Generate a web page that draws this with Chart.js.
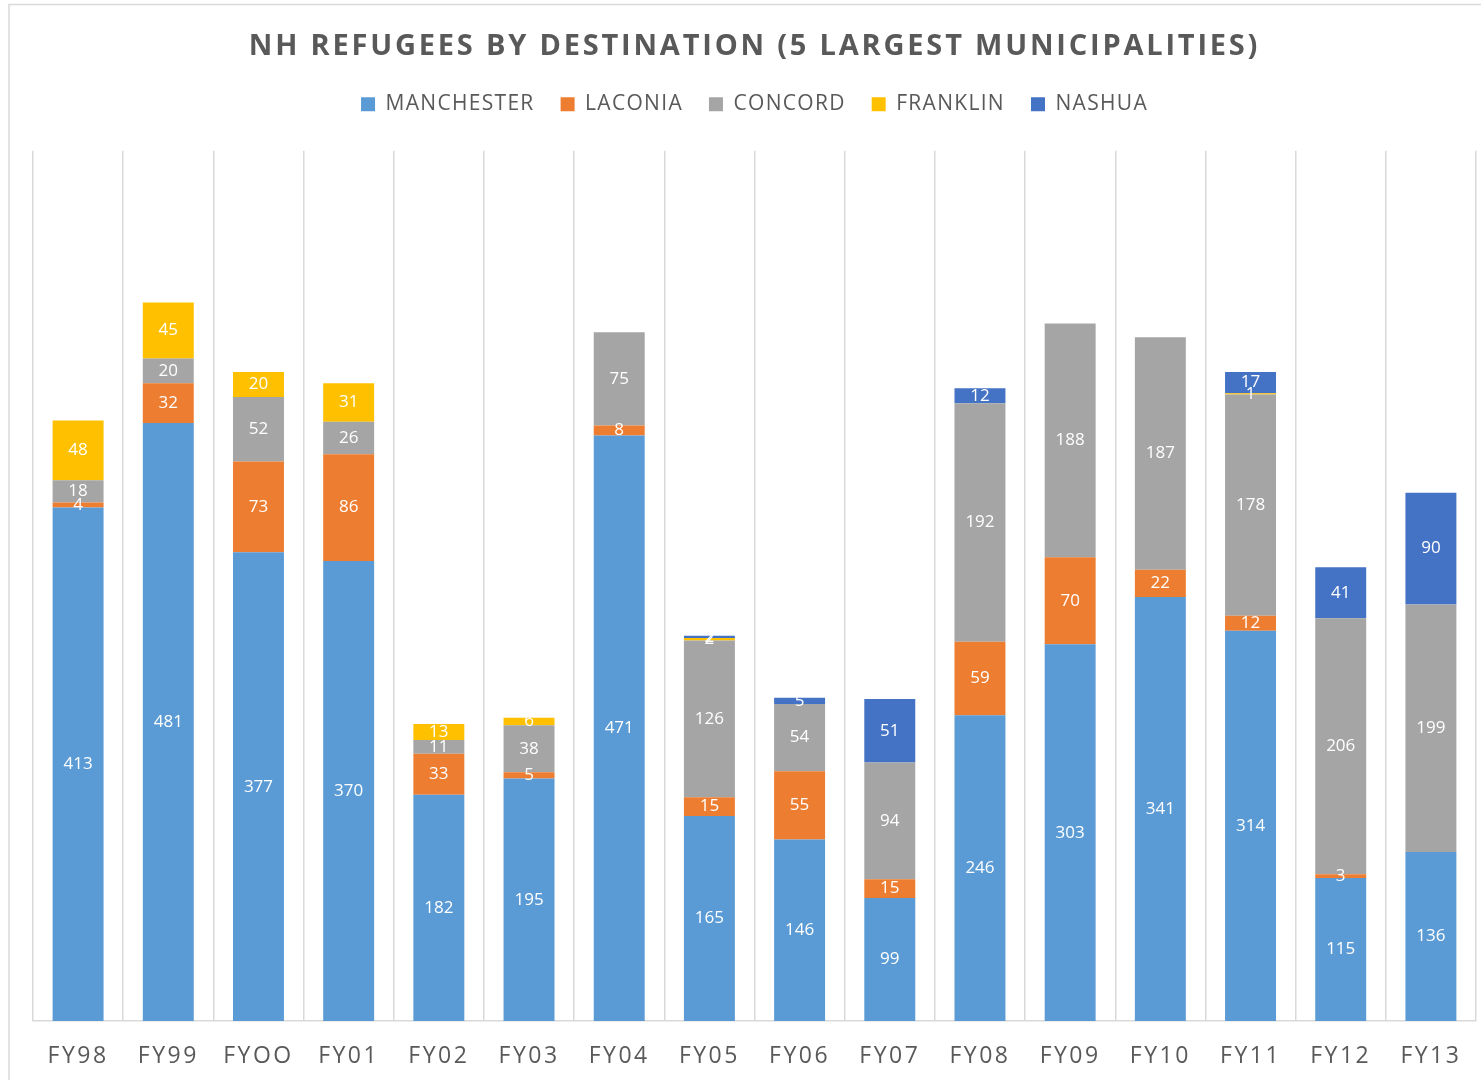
<!DOCTYPE html>
<html>
<head>
<meta charset="utf-8">
<script src="https://cdn.jsdelivr.net/npm/chart.js@4.4.1/dist/chart.umd.min.js"></script>
<style>
  html, body { margin: 0; padding: 0; background: #fff; }
  #wrap { width: 1481px; height: 1080px; position: relative; }
</style>
</head>
<body>
<div id="wrap"><canvas id="refugeeChart"></canvas></div>
<script>
const years = ['FY98', 'FY99', 'FYOO', 'FY01', 'FY02', 'FY03', 'FY04', 'FY05',
  'FY06', 'FY07', 'FY08', 'FY09', 'FY10', 'FY11', 'FY12', 'FY13'];

const manchester = [413, 481, 377, 370, 182, 195, 471, 165, 146, 99, 246, 303, 341, 314, 115, 136];
const laconia    = [4, 32, 73, 86, 33, 5, 8, 15, 55, 15, 59, 70, 22, 12, 3, 0];
const concord    = [18, 20, 52, 26, 11, 38, 75, 126, 54, 94, 192, 188, 187, 178, 206, 199];
const franklin   = [48, 45, 20, 31, 13, 6, 0, 2, 0, 0, 0, 0, 0, 1, 0, 0];
const nashua     = [0, 0, 0, 0, 0, 0, 0, 2, 5, 51, 12, 0, 0, 17, 41, 90];

const textGrey = '#595959';

// run some of an element's methods with a given letter spacing
function spaced(obj, names, sp) {
  names.forEach(n => {
    const fn = obj[n];
    obj[n] = function (...args) {
      const c = this.ctx;
      const old = c.letterSpacing;
      c.letterSpacing = sp;
      const r = fn.apply(this, args);
      c.letterSpacing = old;
      return r;
    };
  });
}

const spacing = {
  id: 'spacing',
  beforeLayout(chart) {
    if (chart.$spaced) return;
    chart.$spaced = true;
    spaced(chart.titleBlock, ['draw'], '2.8px');
    spaced(chart.legend, ['fit', 'draw'], '1.3px');
    spaced(chart.scales.x, ['drawLabels'], '2.5px');
    // extra gap under the legend
    const legendFit = chart.legend.fit;
    chart.legend.fit = function () {
      legendFit.call(this);
      this.height += 26;
    };
  },
  beforeDraw(chart) {
    const ctx = chart.ctx;
    ctx.save();
    ctx.strokeStyle = '#d9d9d9';
    ctx.lineWidth = 1.5;
    ctx.strokeRect(9, 4.5, chart.width + 20, chart.height + 20);
    ctx.restore();
  }
};

// white value labels in the middle of each segment
const segmentLabels = {
  id: 'segmentLabels',
  afterDatasetsDraw(chart) {
    const ctx = chart.ctx;
    ctx.save();
    ctx.font = '17px "Open Sans", sans-serif';
    ctx.fillStyle = '#ffffff';
    ctx.textAlign = 'center';
    ctx.textBaseline = 'middle';
    chart.data.datasets.forEach((ds, i) => {
      chart.getDatasetMeta(i).data.forEach((bar, j) => {
        const v = ds.data[j];
        if (!v) return;
        ctx.fillText(String(v), bar.x, (bar.y + bar.base) / 2);
      });
    });
    ctx.restore();
  }
};

new Chart(document.getElementById('refugeeChart'), {
  type: 'bar',
  data: {
    labels: years,
    datasets: [
      { label: 'MANCHESTER', data: manchester, backgroundColor: '#5B9BD5' },
      { label: 'LACONIA', data: laconia, backgroundColor: '#ED7D31' },
      { label: 'CONCORD', data: concord, backgroundColor: '#A5A5A5' },
      { label: 'FRANKLIN', data: franklin, backgroundColor: '#FFC000' },
      { label: 'NASHUA', data: nashua, backgroundColor: '#4472C4' }
    ]
  },
  options: {
    responsive: true,
    maintainAspectRatio: false,
    animation: false,
    layout: { padding: { left: 33, right: 5, top: 25, bottom: 0 } },
    datasets: { bar: { categoryPercentage: 1, barPercentage: 0.565 } },
    scales: {
      x: {
        stacked: true,
        grid: { color: '#d9d9d9', lineWidth: 1.5, drawTicks: false, offset: true },
        border: { color: '#d9d9d9', width: 1.5 },
        ticks: { color: textGrey, font: { family: '"Open Sans", sans-serif', size: 23 }, padding: 22 },
        afterFit(scale) { scale.height = 59; }
      },
      y: { stacked: true, display: false, min: 0, max: 700 }
    },
    plugins: {
      title: {
        display: true,
        text: 'NH REFUGEES BY DESTINATION (5 LARGEST MUNICIPALITIES)',
        color: textGrey,
        font: { family: '"Open Sans", sans-serif', size: 29, weight: 'bold' },
        padding: { top: 4, bottom: 4 }
      },
      legend: {
        labels: {
          color: textGrey,
          font: { family: '"Open Sans", sans-serif', size: 21 },
          boxWidth: 14, boxHeight: 14, padding: 26
        }
      },
      tooltip: { enabled: false }
    }
  },
  plugins: [segmentLabels, spacing]
});
</script>
</body>
</html>
